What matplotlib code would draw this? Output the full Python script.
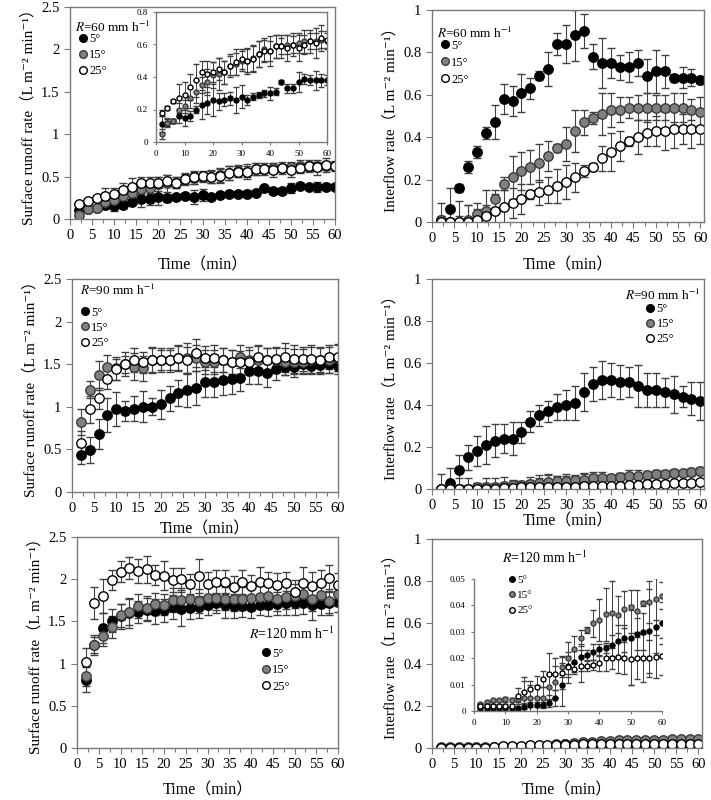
import numpy as np
import matplotlib
matplotlib.use("Agg")
import matplotlib.pyplot as plt
from matplotlib.ticker import MultipleLocator
from matplotlib.lines import Line2D

plt.rcParams['font.family'] = ['Liberation Serif', 'DejaVu Serif', 'Noto Sans CJK SC']
plt.rcParams['mathtext.fontset'] = 'stix'

# Temps (min)
t = list(range(2, 62, 2))
slopes = ["5°", "15°", "25°"]

# R = 60 mm/h, ruissellement de surface
sr60_5 = [0.11, 0.12, 0.13, 0.16, 0.15, 0.16, 0.20, 0.23, 0.24, 0.26, 0.25, 0.26, 0.27, 0.26, 0.28,
          0.26, 0.28, 0.29, 0.30, 0.30, 0.31, 0.37, 0.33, 0.33, 0.37, 0.39, 0.38, 0.38, 0.38, 0.38]
sr60_5_err = [0.05, 0.03, 0.01, 0.04, 0.05, 0.03, 0.02, 0.09, 0.07, 0.10, 0.05, 0.04, 0.04, 0.08, 0.07,
              0.03, 0.02, 0.02, 0.02, 0.04, 0.02, 0.01, 0.03, 0.03, 0.06, 0.03, 0.03, 0.06, 0.04, 0.03]
sr60_15 = [0.05, 0.12, 0.13, 0.20, 0.22, 0.27, 0.31, 0.35, 0.37, 0.41, 0.42, 0.43, 0.47, 0.48, 0.50,
           0.50, 0.52, 0.54, 0.57, 0.56, 0.59, 0.59, 0.60, 0.60, 0.61, 0.62, 0.62, 0.62, 0.63, 0.62]
sr60_15_err = [0.03, 0.02, 0.01, 0.04, 0.04, 0.06, 0.07, 0.05, 0.08, 0.08, 0.10, 0.07, 0.06, 0.07, 0.06,
               0.08, 0.08, 0.08, 0.07, 0.09, 0.07, 0.05, 0.06, 0.05, 0.06, 0.07, 0.05, 0.05, 0.05, 0.05]
sr60_25 = [0.18, 0.21, 0.25, 0.27, 0.29, 0.34, 0.38, 0.43, 0.42, 0.43, 0.45, 0.43, 0.47, 0.49, 0.51,
           0.50, 0.51, 0.54, 0.56, 0.56, 0.59, 0.59, 0.58, 0.60, 0.58, 0.60, 0.62, 0.61, 0.64, 0.63]
sr60_25_err = [0.02, 0.01, 0.01, 0.09, 0.08, 0.08, 0.10, 0.07, 0.08, 0.06, 0.07, 0.07, 0.07, 0.08, 0.06,
               0.07, 0.08, 0.08, 0.07, 0.06, 0.07, 0.07, 0.08, 0.07, 0.08, 0.06, 0.07, 0.09, 0.08, 0.05]

# R = 60 mm/h, écoulement hypodermique
if60_5 = [0.01, 0.06, 0.16, 0.26, 0.33, 0.42, 0.47, 0.58, 0.57, 0.61, 0.63, 0.69, 0.72, 0.84, 0.84,
          0.88, 0.90, 0.78, 0.75, 0.75, 0.73, 0.73, 0.75, 0.69, 0.71, 0.71, 0.68, 0.68, 0.68, 0.67]
if60_5_err = [0.08, 0.10, 0.02, 0.03, 0.03, 0.03, 0.08, 0.07, 0.07, 0.09, 0.05, 0.02, 0.08, 0.05, 0.09,
              0.12, 0.08, 0.06, 0.12, 0.07, 0.06, 0.07, 0.06, 0.08, 0.10, 0.08, 0.02, 0.05, 0.04, 0.02]
if60_15 = [0.01, 0.00, 0.00, 0.01, 0.04, 0.05, 0.11, 0.18, 0.21, 0.24, 0.26, 0.28, 0.31, 0.35, 0.37,
           0.43, 0.47, 0.49, 0.51, 0.53, 0.53, 0.54, 0.54, 0.54, 0.54, 0.54, 0.54, 0.54, 0.53, 0.52]
if60_15_err = [0.02, 0.05, 0.10, 0.07, 0.05, 0.10, 0.04, 0.03, 0.10, 0.09, 0.08, 0.09, 0.07, 0.02, 0.08,
               0.10, 0.06, 0.03, 0.10, 0.08, 0.06, 0.05, 0.06, 0.07, 0.06, 0.06, 0.07, 0.07, 0.05, 0.07]
if60_25 = [0.00, 0.00, 0.00, 0.00, 0.01, 0.03, 0.05, 0.07, 0.09, 0.11, 0.13, 0.14, 0.15, 0.17, 0.19,
           0.21, 0.24, 0.26, 0.30, 0.33, 0.36, 0.38, 0.40, 0.42, 0.43, 0.43, 0.44, 0.44, 0.44, 0.44]
if60_25_err = [0.02, 0.02, 0.03, 0.08, 0.05, 0.05, 0.08, 0.08, 0.07, 0.07, 0.02, 0.06, 0.06, 0.08, 0.08,
               0.07, 0.03, 0.02, 0.06, 0.09, 0.07, 0.02, 0.08, 0.06, 0.07, 0.09, 0.09, 0.07, 0.09, 0.07]

# R = 90 mm/h, ruissellement de surface
sr90_5 = [0.43, 0.49, 0.68, 0.90, 0.97, 0.95, 0.98, 1.00, 1.00, 1.03, 1.10, 1.16, 1.20, 1.22, 1.29,
          1.29, 1.32, 1.33, 1.34, 1.42, 1.42, 1.40, 1.44, 1.47, 1.47, 1.50, 1.48, 1.49, 1.50, 1.48]
sr90_5_err = [0.10, 0.15, 0.18, 0.20, 0.20, 0.12, 0.15, 0.18, 0.10, 0.17, 0.15, 0.15, 0.20, 0.20, 0.18,
              0.18, 0.18, 0.18, 0.15, 0.15, 0.15, 0.17, 0.12, 0.10, 0.12, 0.10, 0.10, 0.10, 0.10, 0.10]
sr90_15 = [0.82, 1.20, 1.37, 1.47, 1.45, 1.50, 1.47, 1.45, 1.55, 1.55, 1.55, 1.57, 1.57, 1.57, 1.53,
           1.53, 1.55, 1.53, 1.59, 1.55, 1.55, 1.55, 1.55, 1.53, 1.53, 1.53, 1.55, 1.55, 1.55, 1.57]
sr90_15_err = [0.15, 0.10, 0.17, 0.14, 0.14, 0.10, 0.16, 0.15, 0.14, 0.14, 0.14, 0.15, 0.18, 0.15, 0.14,
               0.14, 0.14, 0.14, 0.14, 0.15, 0.16, 0.14, 0.14, 0.16, 0.15, 0.15, 0.15, 0.15, 0.15, 0.15]
sr90_25 = [0.57, 0.97, 1.10, 1.33, 1.44, 1.50, 1.55, 1.52, 1.55, 1.55, 1.55, 1.57, 1.55, 1.63, 1.57,
           1.57, 1.55, 1.53, 1.52, 1.52, 1.58, 1.55, 1.56, 1.58, 1.56, 1.56, 1.56, 1.55, 1.58, 1.58]
sr90_25_err = [0.15, 0.16, 0.12, 0.12, 0.12, 0.14, 0.14, 0.12, 0.15, 0.12, 0.12, 0.14, 0.15, 0.16, 0.14,
               0.16, 0.14, 0.14, 0.14, 0.15, 0.15, 0.14, 0.14, 0.17, 0.16, 0.14, 0.16, 0.14, 0.14, 0.16]

# R = 90 mm/h, écoulement hypodermique
if90_5 = [0.00, 0.03, 0.09, 0.15, 0.18, 0.21, 0.23, 0.24, 0.24, 0.27, 0.32, 0.35, 0.37, 0.39, 0.40,
          0.41, 0.46, 0.50, 0.52, 0.52, 0.51, 0.51, 0.49, 0.47, 0.47, 0.46, 0.45, 0.44, 0.43, 0.42]
if90_5_err = [0.07, 0.07, 0.07, 0.06, 0.07, 0.09, 0.08, 0.07, 0.08, 0.05, 0.05, 0.05, 0.05, 0.06, 0.07,
              0.08, 0.09, 0.08, 0.09, 0.08, 0.08, 0.07, 0.10, 0.08, 0.08, 0.07, 0.09, 0.05, 0.08, 0.09]
if90_15 = [0.000, 0.000, 0.000, 0.000, 0.010, 0.010, 0.010, 0.015, 0.020, 0.020, 0.025, 0.030, 0.035, 0.040, 0.040,
           0.045, 0.045, 0.050, 0.050, 0.050, 0.055, 0.060, 0.060, 0.065, 0.070, 0.070, 0.075, 0.075, 0.080, 0.085]
if90_15_err = [0.01, 0.01, 0.02, 0.02, 0.02, 0.02, 0.02, 0.02, 0.02, 0.02, 0.02, 0.02, 0.03, 0.02, 0.03,
               0.02, 0.03, 0.03, 0.03, 0.02, 0.02, 0.03, 0.03, 0.02, 0.02, 0.02, 0.02, 0.01, 0.02, 0.02]
if90_25 = [0.000, 0.000, 0.000, 0.000, 0.000, 0.000, 0.000, 0.005, 0.005, 0.008, 0.008, 0.008, 0.010, 0.010, 0.010,
           0.010, 0.012, 0.012, 0.013, 0.015, 0.015, 0.018, 0.020, 0.022, 0.024, 0.025, 0.027, 0.030, 0.030, 0.035]
if90_25_err = [0.01, 0.01, 0.05, 0.05, 0.03, 0.05, 0.05, 0.05, 0.04, 0.03, 0.05, 0.06, 0.06, 0.05, 0.05,
               0.05, 0.06, 0.06, 0.05, 0.05, 0.06, 0.06, 0.05, 0.05, 0.06, 0.05, 0.06, 0.05, 0.06, 0.05]

# R = 120 mm/h, ruissellement de surface
sr120_5 = [0.81, 1.22, 1.42, 1.51, 1.56, 1.60, 1.61, 1.64, 1.62, 1.63, 1.67, 1.65, 1.66, 1.67, 1.70,
           1.72, 1.69, 1.68, 1.68, 1.67, 1.70, 1.70, 1.71, 1.72, 1.72, 1.72, 1.70, 1.71, 1.72, 1.73]
sr120_5_err = [0.15, 0.12, 0.18, 0.14, 0.15, 0.18, 0.13, 0.14, 0.15, 0.14, 0.14, 0.20, 0.13, 0.13, 0.12,
               0.12, 0.15, 0.14, 0.13, 0.13, 0.13, 0.14, 0.14, 0.14, 0.14, 0.13, 0.18, 0.14, 0.14, 0.12]
sr120_15 = [0.85, 1.22, 1.33, 1.43, 1.57, 1.61, 1.68, 1.66, 1.71, 1.70, 1.75, 1.75, 1.76, 1.74, 1.78,
            1.78, 1.77, 1.76, 1.77, 1.78, 1.79, 1.80, 1.76, 1.79, 1.80, 1.83, 1.76, 1.81, 1.74, 1.82]
sr120_15_err = [0.12, 0.10, 0.12, 0.13, 0.14, 0.15, 0.14, 0.14, 0.13, 0.13, 0.14, 0.14, 0.14, 0.14, 0.13,
                0.14, 0.14, 0.14, 0.14, 0.14, 0.14, 0.15, 0.14, 0.14, 0.14, 0.13, 0.14, 0.14, 0.14, 0.14]
sr120_25 = [1.02, 1.72, 1.80, 1.99, 2.09, 2.13, 2.10, 2.12, 2.05, 2.04, 1.99, 2.00, 1.94, 2.04, 1.94,
            1.97, 1.97, 1.91, 1.97, 1.92, 1.97, 1.95, 1.93, 1.96, 1.85, 1.96, 1.92, 1.96, 2.01, 1.93]
sr120_25_err = [0.17, 0.19, 0.20, 0.12, 0.12, 0.13, 0.14, 0.16, 0.12, 0.17, 0.14, 0.13, 0.12, 0.20, 0.14,
                0.14, 0.14, 0.13, 0.14, 0.13, 0.18, 0.14, 0.14, 0.13, 0.14, 0.19, 0.16, 0.15, 0.16, 0.14]

# R = 120 mm/h, écoulement hypodermique
if120_5 = [0.0010, 0.0010, 0.0010, 0.0010, 0.0010, 0.0010, 0.0010, 0.0016, 0.0024, 0.0024, 0.0024, 0.0030, 0.0050, 0.0100, 0.0170,
           0.0187, 0.0203, 0.0212, 0.0225, 0.0234, 0.0238, 0.0249, 0.0265, 0.0275, 0.0278, 0.0292, 0.0300, 0.0304, 0.0320, 0.0332]
if120_5_err = [0.0005, 0.0005, 0.0005, 0.0005, 0.0005, 0.0005, 0.0005, 0.0010, 0.0010, 0.0010, 0.0010, 0.0015, 0.0030, 0.0080, 0.0040,
               0.0040, 0.0050, 0.0020, 0.0030, 0.0020, 0.0020, 0.0040, 0.0060, 0.0050, 0.0180, 0.0060, 0.0070, 0.0160, 0.0100, 0.0080]
if120_15 = [0.0027, 0.0033, 0.0040, 0.0042, 0.0044, 0.0043, 0.0044, 0.0048, 0.0048, 0.0048, 0.0050, 0.0090, 0.0110, 0.0168, 0.0200,
            0.0234, 0.0277, 0.0307, 0.0332, 0.0345, 0.0367, 0.0371, 0.0365, 0.0385, 0.0393, 0.0380, 0.0408, 0.0412, 0.0423, 0.0437]
if120_15_err = [0.0005, 0.0005, 0.0005, 0.0005, 0.0010, 0.0005, 0.0010, 0.0080, 0.0050, 0.0050, 0.0040, 0.0050, 0.0060, 0.0040, 0.0060,
                0.0050, 0.0030, 0.0010, 0.0050, 0.0080, 0.0100, 0.0120, 0.0070, 0.0070, 0.0010, 0.0080, 0.0010, 0.0080, 0.0080, 0.0050]
if120_25 = [0.0020, 0.0020, 0.0020, 0.0020, 0.0020, 0.0020, 0.0057, 0.0072, 0.0082, 0.0092, 0.0121, 0.0140, 0.0139, 0.0145, 0.0165,
            0.0160, 0.0170, 0.0170, 0.0174, 0.0180, 0.0200, 0.0200, 0.0203, 0.0200, 0.0197, 0.0200, 0.0200, 0.0200, 0.0206, 0.0208]
if120_25_err = [0.0005, 0.0005, 0.0005, 0.0005, 0.0005, 0.0005, 0.0030, 0.0040, 0.0030, 0.0040, 0.0030, 0.0080, 0.0060, 0.0060, 0.0060,
                0.0020, 0.0060, 0.0020, 0.0020, 0.0030, 0.0050, 0.0040, 0.0060, 0.0060, 0.0100, 0.0080, 0.0090, 0.0070, 0.0080, 0.0070]

# style des trois pentes
face_colors = ['black', '#808080', 'white']
edge_colors = ['black', '#3c3c3c', 'black']
err_color = '#404040'
spine_color = '#7a7a7a'

sr_label = "Surface runoff rate（L m⁻² min⁻¹）"
if_label = "Interflow rate（L m⁻² min⁻¹）"


def draw_series(ax, series, errors, ms, capsize, lw):
    for i in range(3):
        ax.errorbar(t, series[i], yerr=errors[i], fmt='o', ms=ms,
                    mfc=face_colors[i], mec=edge_colors[i], mew=1.0,
                    ecolor=err_color, elinewidth=lw, capsize=capsize, capthick=lw)


def style_axes(ax, ymax, ystep, fs, xmax=60, minor=2.5):
    ax.set_xlim(0, xmax)
    ax.set_ylim(0, ymax)
    ax.xaxis.set_major_locator(MultipleLocator(5 if fs > 7 else 10))
    ax.xaxis.set_minor_locator(MultipleLocator(minor))
    ax.yaxis.set_major_locator(MultipleLocator(ystep))
    ax.tick_params(direction='out', labelsize=fs, length=4, color=spine_color, width=0.8)
    ax.tick_params(which='minor', direction='out', length=3, color=spine_color, width=0.8)
    for sp in ax.spines.values():
        sp.set_color(spine_color)
        sp.set_linewidth(1.0)
    ax.yaxis.set_major_formatter(plt.FuncFormatter(lambda v, p: ('%g' % round(v, 3))))


def add_legend(ax, x, y, ms, fs, spacing=0.8):
    handles = [Line2D([], [], ls='none', marker='o', ms=ms, mfc=face_colors[i],
                      mec=edge_colors[i], mew=1.0) for i in range(3)]
    ax.legend(handles, slopes, loc='upper left', bbox_to_anchor=(x, y), frameon=False,
              fontsize=fs, handletextpad=0.0, handlelength=1.0, labelspacing=spacing,
              borderpad=0, borderaxespad=0)


fig = plt.figure(figsize=(7.11, 8.0), dpi=100)
W, H = 711.0, 800.0


def axes_px(l, r, b, t_):
    return fig.add_axes([l / W, 1 - b / H, (r - l) / W, (b - t_) / H])


ms_main = 6.8
ylab_fs = 11
# Graphique 1 : R=60, surface
ax1 = axes_px(70, 335, 219, 7)
draw_series(ax1, [sr60_5, sr60_15, sr60_25], [sr60_5_err, sr60_15_err, sr60_25_err], ms_main, 3, 0.8)
style_axes(ax1, 2.5, 0.5, 10.5)
ax1.set_ylabel(sr_label, fontsize=ylab_fs)
ax1.set_xlabel("Time（min）", fontsize=11.5, labelpad=11)
ax1.text(0.02, 0.905, "$R$=60 mm h$^{-1}$", transform=ax1.transAxes, fontsize=9.5, va='center')
add_legend(ax1, 0.025, 0.875, 5.5, 9, 0.3)

# Encart 1
ins1 = axes_px(156, 327, 142, 12)
draw_series(ins1, [sr60_5, sr60_15, sr60_25], [sr60_5_err, sr60_15_err, sr60_25_err], 3.6, 2.5, 0.7)
style_axes(ins1, 0.8, 0.2, 6.5, minor=5)
ins1.tick_params(length=2.5)
ins1.tick_params(which='minor', length=0)

# Graphique 2 : R=60, hypodermique
ax2 = axes_px(432, 704, 222, 10)
draw_series(ax2, [if60_5, if60_15, if60_25], [if60_5_err, if60_15_err, if60_25_err], ms_main, 3, 0.8)
style_axes(ax2, 1.0, 0.2, 10.5, xmax=60.8)
ax2.set_ylabel(if_label, fontsize=ylab_fs)
ax2.set_xlabel("Time（min）", fontsize=11.5, labelpad=9)
ax2.text(0.02, 0.89, "$R$=60 mm h$^{-1}$", transform=ax2.transAxes, fontsize=9.5, va='center')
add_legend(ax2, 0.025, 0.86, 5.5, 9, 0.4)

# Graphique 3 : R=90, surface
ax3 = axes_px(72, 338, 492, 279)
draw_series(ax3, [sr90_5, sr90_15, sr90_25], [sr90_5_err, sr90_15_err, sr90_25_err], ms_main, 3, 0.8)
style_axes(ax3, 2.5, 0.5, 10.5)
ax3.set_ylabel(sr_label, fontsize=ylab_fs)
ax3.set_xlabel("Time（min）", fontsize=11.5, labelpad=4)
ax3.text(0.03, 0.945, "$R$=90 mm h$^{-1}$", transform=ax3.transAxes, fontsize=9.5, va='center')
add_legend(ax3, 0.025, 0.87, 5.5, 9, 0.25)

# Graphique 4 : R=90, hypodermique
ax4 = axes_px(432, 704, 489, 279)
draw_series(ax4, [if90_5, if90_15, if90_25], [if90_5_err, if90_15_err, if90_25_err], ms_main, 3, 0.8)
style_axes(ax4, 1.0, 0.2, 10.5, xmax=60.8)
ax4.set_ylabel(if_label, fontsize=ylab_fs)
ax4.set_xlabel("Time（min）", fontsize=11.5, labelpad=1)
ax4.text(0.985, 0.92, "$R$=90 mm h$^{-1}$", transform=ax4.transAxes, fontsize=9.5, va='center', ha='right')
add_legend(ax4, 0.78, 0.885, 5.5, 9, 0.25)

# Graphique 5 : R=120, surface
ax5 = axes_px(77, 338, 748, 537)
draw_series(ax5, [sr120_5, sr120_15, sr120_25], [sr120_5_err, sr120_15_err, sr120_25_err], ms_main, 3, 0.8)
style_axes(ax5, 2.5, 0.5, 10.5)
ax5.set_ylabel(sr_label, fontsize=ylab_fs)
ax5.set_xlabel("Time（min）", fontsize=11.5, labelpad=8)
ax5.text(0.985, 0.543, "$R$=120 mm h$^{-1}$", transform=ax5.transAxes, fontsize=10, va='center', ha='right')
add_legend(ax5, 0.7, 0.475, 5.5, 9, 0.35)

# Graphique 6 : R=120, hypodermique
ax6 = axes_px(432, 702, 748, 539)
draw_series(ax6, [if120_5, if120_15, if120_25], [if120_5_err, if120_15_err, if120_25_err], ms_main, 3, 0.8)
style_axes(ax6, 1.0, 0.2, 10.5, xmax=60.8)
ax6.set_ylabel(if_label, fontsize=ylab_fs)
ax6.set_xlabel("Time（min）", fontsize=11.5, labelpad=8)
ax6.text(0.26, 0.91, "$R$=120 mm h$^{-1}$", transform=ax6.transAxes, fontsize=10, va='center')

# Encart 6
ins6 = axes_px(474, 662, 711, 579)
draw_series(ins6, [if120_5, if120_15, if120_25], [if120_5_err, if120_15_err, if120_25_err], 3.6, 2.5, 0.7)
style_axes(ins6, 0.05, 0.01, 6.5, minor=5)
ins6.tick_params(length=2.5)
ins6.tick_params(which='minor', length=0)
ins6.spines['top'].set_visible(False)
ins6.spines['right'].set_visible(False)
ins6.patch.set_alpha(0)
add_legend(ins6, 0.17, 1.03, 4.0, 8, 0.5)

plt.savefig("out.png", dpi=100)
